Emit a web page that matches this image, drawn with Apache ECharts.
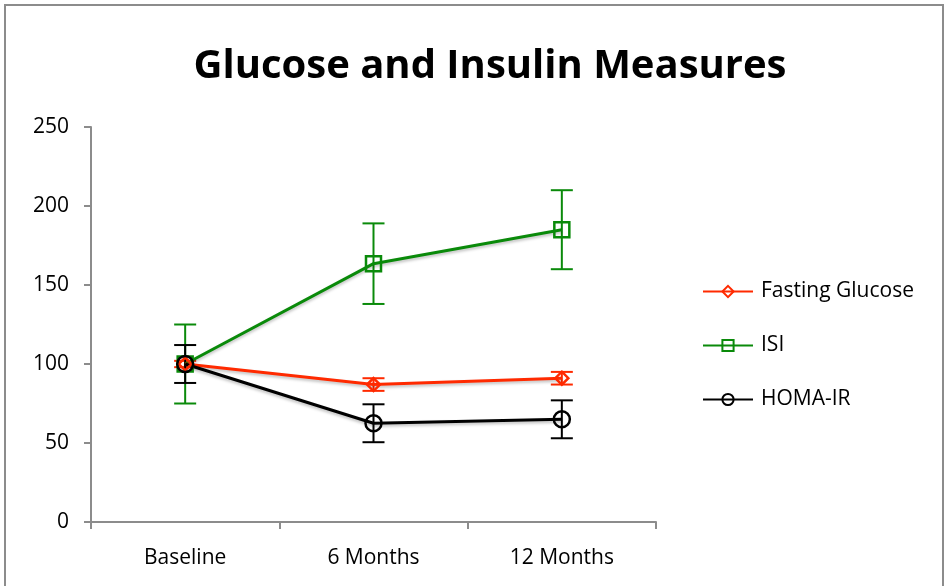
<!DOCTYPE html>
<html>
<head>
<meta charset="utf-8">
<script src="https://cdn.jsdelivr.net/npm/echarts@6/dist/echarts.min.js"></script>
<style>
  html, body { margin: 0; padding: 0; background: #fff; }
  #frame {
    position: absolute; left: 4px; top: 4px; width: 940px; height: 600px;
    border: 2px solid #8c8c8c; box-sizing: border-box;
  }
  #grafico { position: absolute; left: 0; top: 0; width: 949px; height: 586px; }
</style>
</head>
<body>
<div id="frame"></div>
<div id="grafico"></div>
<script>
// categorias y valores
const categorias = ['Baseline', '6 Months', '12 Months']
const glucosa = [100, 87, 91]
const glucosaErr = [2, 4, 4]
const isi = [100, 163.5, 185]
const isiErr = [25, 25.5, 25]
const homa = [100, 62.5, 65]
const homaErr = [12, 12, 12]
const yTicks = [0, 50, 100, 150, 200, 250]

const fuente = '"Open Sans", sans-serif'

function errorBars(nombre, valores, errores, color) {
  return {
    name: nombre,
    type: 'custom',
    z: 1,
    silent: true,
    data: valores.map((v, i) => [i, v - errores[i], v + errores[i]]),
    renderItem: (params, api) => {
      let bajo = api.coord([api.value(0), api.value(1)])
      let alto = api.coord([api.value(0), api.value(2)])
      let w = 11
      let estilo = { stroke: color, lineWidth: 2 }
      return {
        type: 'group',
        children: [
          { type: 'line', shape: { x1: bajo[0], y1: bajo[1], x2: alto[0], y2: alto[1] }, style: estilo },
          { type: 'line', shape: { x1: bajo[0] - w, y1: bajo[1], x2: bajo[0] + w, y2: bajo[1] }, style: estilo },
          { type: 'line', shape: { x1: alto[0] - w, y1: alto[1], x2: alto[0] + w, y2: alto[1] }, style: estilo }
        ]
      }
    }
  }
}

function linea(nombre, valores, color, simbolo, tam) {
  return {
    name: nombre,
    type: 'line',
    z: 3,
    data: valores,
    symbol: simbolo,
    symbolSize: tam,
    showAllSymbol: true,
    lineStyle: {
      width: 3,
      color: color,
      shadowColor: 'rgba(0,0,0,0.25)',
      shadowBlur: 3,
      shadowOffsetY: 2
    },
    itemStyle: { color: 'none', borderColor: color, borderWidth: 2.5 },
    emphasis: { disabled: true }
  }
}

let myChart = echarts.init(document.getElementById('grafico'), null, { renderer: 'canvas' })

let option = {
  animation: false,
  title: {
    text: 'Glucose and Insulin Measures',
    left: 485,
    top: 42,
    textAlign: 'center',
    textStyle: { fontFamily: fuente, fontWeight: 'bold', fontSize: 40, color: '#000' }
  },
  legend: {
    orient: 'vertical',
    left: 702,
    top: 281,
    padding: 0,
    itemGap: 33,
    itemWidth: 50,
    itemHeight: 14,
    data: ['Fasting Glucose', 'ISI', 'HOMA-IR'],
    textStyle: { fontFamily: fuente, fontSize: 21, color: '#000', padding: [0, 0, 0, 3] }
  },
  grid: { left: 91, right: 293, top: 127, bottom: 64, containLabel: false },
  xAxis: {
    type: 'category',
    data: categorias,
    boundaryGap: true,
    axisLine: { lineStyle: { color: '#8c8c8c', width: 2 } },
    axisTick: { show: true, length: 7, lineStyle: { color: '#8c8c8c', width: 2 } },
    axisLabel: { fontFamily: fuente, fontSize: 21, color: '#000', margin: 26 }
  },
  yAxis: {
    type: 'value',
    min: yTicks[0],
    max: yTicks[yTicks.length - 1],
    interval: 50,
    axisLine: { show: true, lineStyle: { color: '#8c8c8c', width: 2 } },
    axisTick: { show: true, length: 7, lineStyle: { color: '#8c8c8c', width: 2 } },
    splitLine: { show: false },
    axisLabel: { fontFamily: fuente, fontSize: 21, color: '#000', margin: 22 }
  },
  series: [
    errorBars('isiErr', isi, isiErr, '#0a8a0a'),
    errorBars('glucosaErr', glucosa, glucosaErr, '#ff2a00'),
    errorBars('homaErr', homa, homaErr, '#000'),
    linea('ISI', isi, '#0a8a0a', 'rect', 15),
    linea('Fasting Glucose', glucosa, '#ff2a00', 'diamond', 13),
    linea('HOMA-IR', homa, '#000', 'circle', 16)
  ]
}

myChart.setOption(option)
</script>
</body>
</html>
